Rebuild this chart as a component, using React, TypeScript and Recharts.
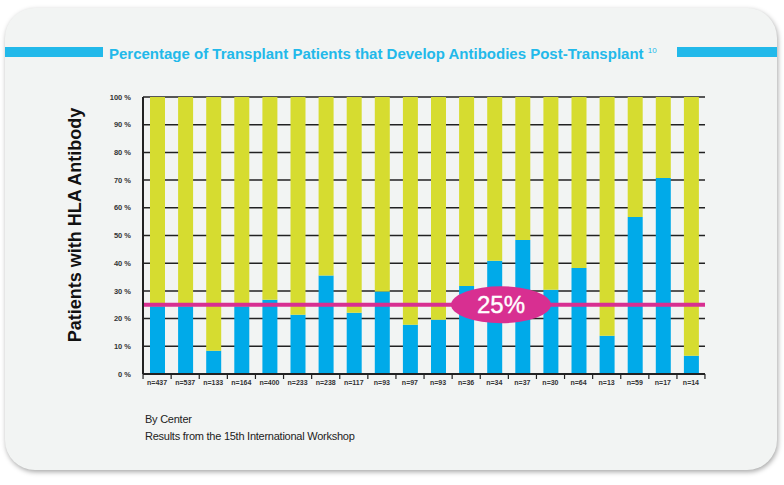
import { BarChart, Bar, CartesianGrid, XAxis, YAxis, ReferenceLine } from "recharts";

const centers = [
  "n=437", "n=537", "n=133", "n=164", "n=400", "n=233", "n=238", "n=117", "n=93", "n=97",
  "n=93", "n=36", "n=34", "n=37", "n=30", "n=64", "n=13", "n=59", "n=17", "n=14"
];
const withAntibody = [24.5, 24.5, 8.4, 24.5, 26.8, 21.4, 35.6, 22.1, 29.8, 17.8, 19.6, 31.8, 40.9, 48.4, 30.4, 38.3, 13.8, 56.7, 70.8, 6.6];
const yTicks = [0, 10, 20, 30, 40, 50, 60, 70, 80, 90, 100];
const threshold = 25;

const data = centers.map((c, i) => ({
  center: c,
  pos: withAntibody[i],
  neg: +(100 - withAntibody[i]).toFixed(1)
}));

const FONT = "'Liberation Sans', Arial, sans-serif";
const BLUE = "#00aae9";
const YELLOW = "#d6dc30";
const MAGENTA = "#d82f91";
const CYAN = "#22b9ea";

const XTick = (props: any) => {
  const { x, y, payload, index } = props;
  const half = 14;
  return (
    <g>
      <line x1={x - half} x2={x - half} y1={y - 8} y2={y - 3} stroke="#222" strokeWidth={1.2} />
      {index === centers.length - 1 && (
        <line x1={x + half} x2={x + half} y1={y - 8} y2={y - 3} stroke="#222" strokeWidth={1.2} />
      )}
      <text x={x} y={y + 3} textAnchor="middle" fontSize={7} fontWeight="bold" fill="#333" fontFamily={FONT}>
        {payload.value}
      </text>
    </g>
  );
};

const PillLabel = (props: any) => {
  const { viewBox } = props;
  const cx = viewBox.x + viewBox.width * 0.637;
  const cy = viewBox.y;
  return (
    <g>
      <ellipse cx={cx} cy={cy} rx={50} ry={18.5} fill={MAGENTA} />
      <text x={cx} y={cy + 8} textAnchor="middle" fontSize={24} fill="#fff" fontFamily={FONT} stroke="#fff" strokeWidth={0.4}>
        25%
      </text>
    </g>
  );
};

export default function App() {
  return (
    <div style={{ position: "absolute", left: 0, top: 0, width: 784, height: 485, background: "#fff", fontFamily: FONT }}>
      <div
        style={{
          position: "absolute", left: 5, top: 8, width: 772, height: 462, borderRadius: 30,
          background: "#f2f4f3", boxShadow: "1px 2px 5px rgba(0,0,0,0.35)"
        }}
      />
      <div style={{ position: "absolute", left: 5, top: 47, width: 98, height: 10, background: CYAN }} />
      <div style={{ position: "absolute", left: 677, top: 47, width: 100, height: 10, background: CYAN }} />
      <div
        style={{
          position: "absolute", left: 109, top: 42, width: 566, whiteSpace: "nowrap",
          color: CYAN, fontWeight: "bold", fontSize: 15, lineHeight: "18px"
        }}
      >
        Percentage of Transplant Patients that Develop Antibodies Post-Transplant{" "}
        <sup style={{ fontSize: 8, fontWeight: "normal", verticalAlign: 6 }}>10</sup>
      </div>
      <div style={{ position: "absolute", left: 0, top: 0 }}>
        <BarChart
          width={784}
          height={485}
          data={data}
          margin={{ top: 97, right: 79, left: 0, bottom: 91 }}
          barSize={15}
        >
          <CartesianGrid horizontal vertical={false} stroke="#222" strokeWidth={1.5} strokeOpacity={1} />
          <XAxis
            dataKey="center"
            height={20}
            tick={<XTick />}
            tickLine={false}
            axisLine={{ stroke: "#222", strokeWidth: 2 }}
            interval={0}
          />
          <YAxis
            width={143}
            domain={[0, 100]}
            ticks={yTicks}
            tickFormatter={(v: number) => `${v} %`}
            tick={{ fontSize: 7.5, fontWeight: "bold", fill: "#333", fontFamily: FONT }}
            tickLine={false}
            tickMargin={6}
            axisLine={{ stroke: "#222", strokeWidth: 2 }}
            label={() => (
              <text
                x={75}
                y={225}
                transform="rotate(-90, 75, 225)"
                textAnchor="middle"
                dominantBaseline="central"
                fontSize={18}
                fontWeight="bold"
                fill="#111"
                fontFamily={FONT}
              >
                Patients with HLA Antibody
              </text>
            )}
          />
          <Bar dataKey="pos" stackId="a" fill={BLUE} isAnimationActive={false} />
          <Bar dataKey="neg" stackId="a" fill={YELLOW} isAnimationActive={false} />
          <ReferenceLine y={threshold} stroke={MAGENTA} strokeWidth={4} label={<PillLabel />} />
        </BarChart>
      </div>
      <div style={{ position: "absolute", left: 145, top: 411, fontSize: 11, color: "#222", letterSpacing: -0.25, lineHeight: "17px" }}>
        By Center
        <br />
        Results from the 15th International Workshop
      </div>
    </div>
  );
}
